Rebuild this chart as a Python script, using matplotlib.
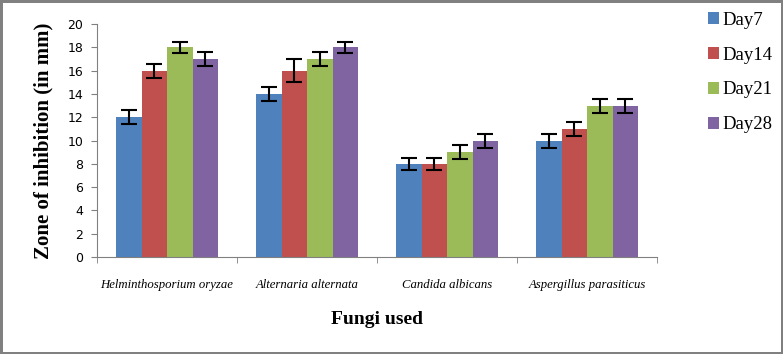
import matplotlib.pyplot as plt
import numpy as np

fungi = ["Helminthosporium oryzae", "Alternaria alternata", "Candida albicans", "Aspergillus parasiticus"]
days = ["Day7", "Day14", "Day21", "Day28"]
values = [
    [12, 14, 8, 10],   # Day7
    [16, 16, 8, 11],   # Day14
    [18, 17, 9, 13],   # Day21
    [17, 18, 10, 13],  # Day28
]
errors = [
    [0.6, 0.6, 0.5, 0.6],
    [0.6, 1.0, 0.5, 0.6],
    [0.5, 0.6, 0.6, 0.6],
    [0.6, 0.5, 0.6, 0.6],
]
colors = ["#4F81BD", "#C0504D", "#9BBB59", "#8064A2"]

fig = plt.figure(figsize=(7.83, 3.54), dpi=100)
fig.patch.set_edgecolor("#808080")
fig.patch.set_linewidth(2.5)
ax = fig.add_axes([0.1239, 0.274, 0.7153, 0.658])

x = np.arange(len(fungi))
w = 0.182
for i, d in enumerate(days):
    ax.bar(x + (i - 1.5) * w, values[i], w, color=colors[i], label=d,
           yerr=errors[i], capsize=6,
           error_kw=dict(ecolor="black", elinewidth=1.5, capthick=1.5))

ax.set_xlim(-0.5, len(fungi) - 0.5)
ax.set_ylim(0, 20)
ax.set_yticks(np.arange(0, 21, 2))
ax.set_yticklabels([str(v) for v in range(0, 21, 2)], fontsize=9, family="DejaVu Sans")
ax.set_xticks(x)
ax.set_xticklabels(fungi, fontsize=9.2, family="Liberation Serif", style="italic")
ax.set_xticks(np.arange(-0.5, len(fungi), 1), minor=True)
ax.tick_params(axis="x", which="major", length=0, pad=16)
ax.tick_params(axis="x", which="minor", length=4, color="#808080")
ax.tick_params(axis="y", length=4, color="#808080", pad=6)
for s in ["top", "right"]:
    ax.spines[s].set_visible(False)
for s in ["left", "bottom"]:
    ax.spines[s].set_color("#808080")

ax.set_ylabel("Zone of inhibition (in mm)", fontsize=15, fontweight="bold",
              family="Liberation Serif", labelpad=10)
ax.set_xlabel("Fungi used", fontsize=14, fontweight="bold",
              family="Liberation Serif", labelpad=14)

ax.legend(loc="upper left", bbox_to_anchor=(1.06, 1.125), frameon=False,
          prop={"family": "Liberation Serif", "size": 13.5},
          handlelength=0.6, handleheight=0.6, handletextpad=0.2, labelspacing=0.95)

fig.savefig("out.png", dpi=100, edgecolor=fig.get_edgecolor())
